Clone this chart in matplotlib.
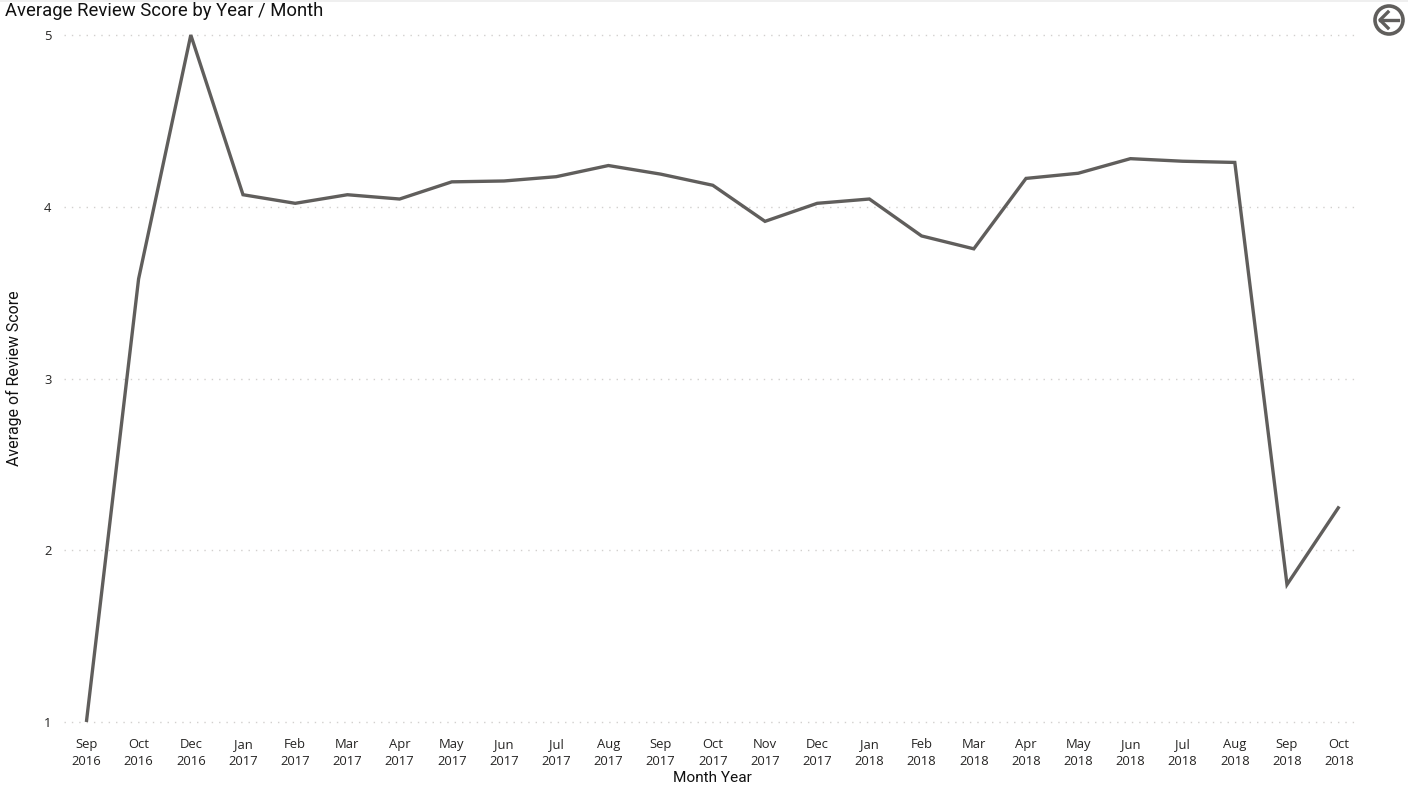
import matplotlib
matplotlib.use("Agg")
import matplotlib.pyplot as plt
from matplotlib.patches import Circle, Rectangle
from matplotlib.lines import Line2D

months = ["Sep\n2016","Oct\n2016","Dec\n2016","Jan\n2017","Feb\n2017","Mar\n2017","Apr\n2017","May\n2017",
          "Jun\n2017","Jul\n2017","Aug\n2017","Sep\n2017","Oct\n2017","Nov\n2017","Dec\n2017","Jan\n2018",
          "Feb\n2018","Mar\n2018","Apr\n2018","May\n2018","Jun\n2018","Jul\n2018","Aug\n2018","Sep\n2018","Oct\n2018"]
scores = [1.0,3.58,5.0,4.07,4.02,4.07,4.045,4.145,4.15,4.175,4.24,4.19,4.125,3.915,4.02,4.045,
          3.83,3.755,4.165,4.195,4.28,4.265,4.258,1.80,2.255]
yticks = [1,2,3,4,5]

W, H = 1408, 792
fig = plt.figure(figsize=(W/100, H/100), dpi=100, facecolor="white")
L, R, T, B = 64, 1358, 35, 722
ax = fig.add_axes([L/W, 1-B/H, (R-L)/W, (B-T)/H])
x = list(range(len(months)))
ax.plot(x, scores, color="#605E5C", lw=2.4, solid_joinstyle="miter", solid_capstyle="butt", clip_on=False, zorder=3)
ax.set_xlim((L-86.4)/52.2, (R-86.4)/52.2)
ax.set_ylim(1, 5)
ax.set_yticks(yticks)
ax.set_xticks(x)
ax.set_xticklabels(months, fontsize=9.4, family="Open Sans", color="#252423", linespacing=1.38)
for lab in ax.get_yticklabels():
    lab.set_fontsize(9.4); lab.set_family("Open Sans"); lab.set_color("#252423")
ax.tick_params(axis="both", length=0)
ax.tick_params(axis="x", pad=11.5)
ax.tick_params(axis="y", pad=9)
for s in ax.spines.values():
    s.set_visible(False)
ax.grid(axis="y", color="#D2D0CE", lw=1, linestyle=(0, (1, 4.3)), clip_on=False)
ax.set_axisbelow(True)

fig.text(5/W, 1-10.5/H, "Average Review Score by Year / Month", fontsize=13.3, family="Roboto", color="#111111", va="center", ha="left")
fig.text(712.5/W, 1-778/H, "Month Year", fontsize=11.1, family="Roboto", color="#111111", va="center", ha="center")
fig.text(14/W, 1-378/H, "Average of Review Score", fontsize=11.4, family="Roboto", color="#111111", va="center", ha="center", rotation=90)

# top band and back-arrow icon, in a pixel-coordinate overlay
ov = fig.add_axes([0, 0, 1, 1], facecolor="none")
ov.set_xlim(0, W); ov.set_ylim(H, 0); ov.axis("off")
ov.add_patch(Rectangle((0, 0), W, 2, color="#EFEFEF", lw=0))
ic = "#605E5C"
ov.add_patch(Circle((1389, 20), 14, fill=False, ec=ic, lw=2.6))
ov.add_line(Line2D([1380, 1398], [20, 20], color=ic, lw=2.4))
ov.add_line(Line2D([1388, 1380, 1388], [12, 20, 28], color=ic, lw=2.4))

fig.savefig("out.png", dpi=100)
